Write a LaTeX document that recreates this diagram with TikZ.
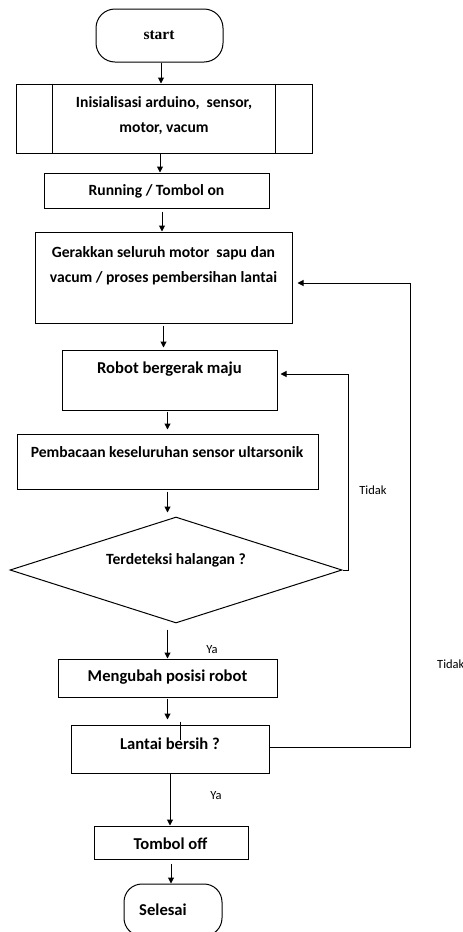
\documentclass[tikz,border=0pt]{standalone}
\usepackage{fontspec}
\setmainfont{Carlito}
\newfontfamily\startfont{Liberation Serif}
\usetikzlibrary{arrows.meta,shapes.geometric}
\tikzset{
  box/.style={draw, line width=1pt, rectangle, inner sep=0pt},
  term/.style={draw, line width=1pt, rectangle, inner sep=0pt, rounded corners=19pt},
  txt/.style={inner sep=0pt, align=center, font=\bfseries\fontsize{15.6}{25}\selectfont},
  big/.style={inner sep=0pt, align=center, font=\bfseries\fontsize{16.6}{18}\selectfont},
  lbl/.style={inner sep=0pt, font=\fontsize{12.5}{14}\selectfont},
  arr/.style={line width=1pt, -{Triangle[length=6pt,width=6pt]}},
}
\begin{document}
\begin{tikzpicture}[x=1pt,y=-1pt]
\useasboundingbox[fill=white] (0,0) rectangle (463,932);
% shapes
\node[term, minimum width=127pt, minimum height=53pt] (start) at (159.5,35.5) {};
\node[inner sep=0pt, font=\startfont\bfseries\fontsize{15.5}{18}\selectfont] (tstart) at (159,35) {start};
\node[box, minimum width=296pt, minimum height=69pt] (init) at (164,118.5) {};
\draw[line width=1pt] ([xshift=37pt]init.north west) -- ([xshift=37pt]init.south west);
\draw[line width=1pt] ([xshift=-37pt]init.north east) -- ([xshift=-37pt]init.south east);
\node[txt] (tinit) at (164,115.5) {Inisialisasi arduino,\ \ sensor,\\motor, vacum};
\node[box, minimum width=225pt, minimum height=35pt] (run) at (156.5,190.5) {};
\node[txt] (trun) at (156.5,191) {Running / Tombol on};
\node[box, minimum width=257pt, minimum height=91pt] (ger) at (163.5,277.5) {};
\node[txt] (tger) at (163.5,265.5) {Gerakkan seluruh motor\ \ sapu dan\\vacum / proses pembersihan lantai};
\node[box, minimum width=215pt, minimum height=60pt] (robot) at (169.5,380) {};
\node[big] (trobot) at (169.5,369) {Robot bergerak maju};
\node[box, minimum width=301pt, minimum height=55pt] (pemb) at (167.5,461.5) {};
\node[txt] (tpemb) at (167,452) {Pembacaan keseluruhan sensor ultarsonik};
\node[draw, line width=1pt, diamond, inner sep=0pt, minimum width=332pt, minimum height=106pt] (dia) at (176,570) {};
\node[txt] (tdia) at (176,560) {Terdeteksi halangan ?};
\node[box, minimum width=219pt, minimum height=38pt] (meng) at (167.5,678) {};
\node[big] (tmeng) at (167.5,677) {Mengubah posisi robot};
\node[box, minimum width=198pt, minimum height=48pt] (lantai) at (170,749) {};
\node[big] (tlantai) at (170,744) {Lantai bersih ?};
\node[box, minimum width=154pt, minimum height=33pt] (tombol) at (171,842.5) {};
\node[big] (ttombol) at (170.5,844) {Tombol off};
\node[term, rounded corners=18pt, minimum width=98pt, minimum height=52pt] (selesai) at (173,910) {};
\node[big] (tselesai) at (163,910) {Selesai};
% labels
\node[lbl] (tidak1) at (373,490) {Tidak};
\node[lbl, anchor=west] (tidak2) at (437,664) {Tidak};
\node[lbl] (ya1) at (212,650) {Ya};
\node[lbl] (ya2) at (216,796) {Ya};
% connectors
\draw[arr] ([xshift=1.5pt]start.south) -- ([xshift=1.5pt]start.south |- init.north);
\draw[arr] ([xshift=-4pt]init.south) -- ([xshift=-4pt]init.south |- run.north);
\draw[arr, shorten <=3pt] ([xshift=-1.5pt]ger.north |- run.south) -- ([xshift=-1.5pt]ger.north);
\draw[arr, shorten <=2pt, shorten >=2pt] (ger.south) -- (ger.south |- robot.north);
\draw[arr, shorten <=1pt, shorten >=4pt] (robot.south -| pemb) -- (pemb.north);
\draw[arr, shorten <=2pt, shorten >=4pt] (pemb.south) -- (pemb.south |- dia.north);
\draw[arr, shorten <=6pt] (dia.south -| meng) -- (meng.north);
\draw[arr, shorten <=1pt, shorten >=5pt] (meng.south) -- (meng.south |- lantai.north);
\draw[arr] (lantai.south) -- (lantai.south |- tombol.north);
\draw[arr, shorten <=4pt] (tombol.south) -- (tombol.south |- selesai.north);
\coordinate (k1) at (348,0);
\coordinate (k2) at (410,0);
\draw[arr, shorten >=3pt] (dia.east) -- (dia.east -| k1) |- ([yshift=6pt]robot.east);
\draw[arr, shorten >=5pt] ([yshift=2pt]lantai.east) -- ([yshift=2pt]lantai.east -| k2) |- ([yshift=-5.5pt]ger.east);
\draw[line width=0.5pt] ([xshift=10pt,yshift=3pt]lantai.north) -- ++(0,18);
\end{tikzpicture}
\end{document}
